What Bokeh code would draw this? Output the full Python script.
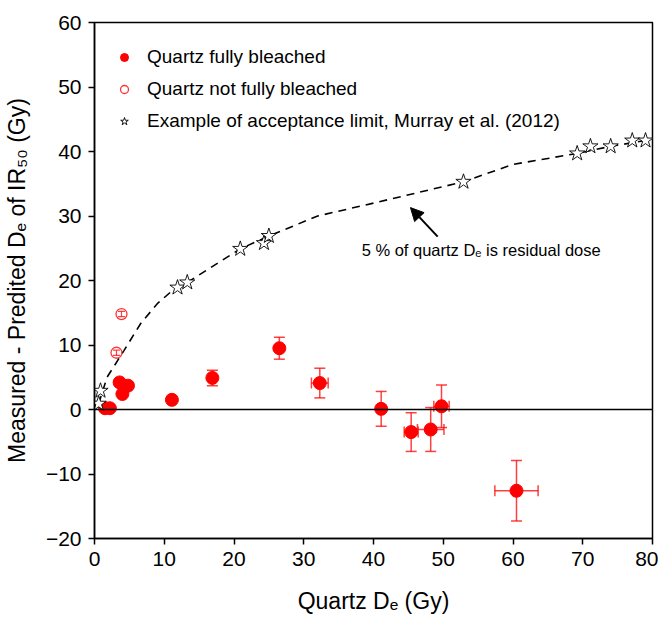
from bokeh.plotting import figure
from bokeh.models import (ColumnDataSource, Whisker, TeeHead, Span, Arrow, NormalHead,
                          Legend, LegendItem, Label, Range1d, FixedTicker)
from bokeh.embed import file_html
from bokeh.resources import INLINE

# ---- data ----
full_x = [1.5, 2.2, 3.6, 4.0, 4.8, 11.1, 16.9, 26.5, 32.3, 41.1, 45.4, 48.2, 49.75, 60.5]
full_y = [0.2, 0.2, 4.2, 2.4, 3.7, 1.5, 4.9, 9.5, 4.1, 0.1, -3.5, -3.1, 0.5, -12.6]
full_yerr = [0, 0, 0, 0, 0, 0, 1.2, 1.7, 2.3, 2.7, 3.0, 3.4, 3.3, 4.7]
full_xerr = [0, 0, 0, 0, 0, 0, 0, 0, 1.2, 0, 1.0, 1.9, 1.1, 3.1]

notfull_x = [3.15, 3.87]
notfull_y = [8.8, 14.8]
notfull_yerr = [0.4, 0.4]

star_x = [0.6, 0.86, 11.9, 13.3, 20.9, 24.3, 25.0, 52.9, 69.2, 71.1, 74.0, 77.1, 79.0]
star_y = [0.9, 2.9, 18.9, 19.7, 24.9, 25.8, 26.9, 35.3, 39.7, 40.8, 40.8, 41.7, 41.7]

limit_x = [0.6, 1.8, 4.2, 6.6, 9.0, 10.9, 13.3, 20.9, 25.0, 32.0, 40.0, 52.9, 60.0, 69.2, 74.0, 79.0]
limit_y = [0.9, 5.0, 9.1, 13.3, 16.4, 18.2, 19.7, 24.9, 26.9, 30.0, 32.0, 35.3, 38.0, 39.7, 40.8, 41.7]

x_ticks = [0, 10, 20, 30, 40, 50, 60, 70, 80]
y_ticks = [-20, -10, 0, 10, 20, 30, 40, 50, 60]

note_text = "5 % of quartz D\u2091 is residual dose"
note_pos = (38.3, 24.8)
arrow_from = (49.2, 26.8)
arrow_to = (45.3, 31.3)

FONT = "Liberation Sans"
RED = "#ff0000"

p = figure(width=658, height=618, x_range=Range1d(0, 80), y_range=Range1d(-20, 60),
           output_backend="svg", toolbar_location=None,
           min_border_left=94, min_border_right=6, min_border_top=22, min_border_bottom=80)

p.grid.visible = False
p.outline_line_color = "black"
p.outline_line_width = 1.5
p.background_fill_color = "white"
p.border_fill_color = "white"

for ax in (p.xaxis[0], p.yaxis[0]):
    ax.axis_line_width = 1.5
    ax.major_tick_line_width = 1.5
    ax.major_tick_out = 6
    ax.major_tick_in = 0
    ax.minor_tick_line_color = None
    ax.major_label_text_font = FONT
    ax.major_label_text_font_size = "21px"
    ax.major_label_text_color = "black"
    ax.major_label_standoff = 7
    ax.axis_label_text_font = FONT
    ax.axis_label_text_font_size = "23px"
    ax.axis_label_text_font_style = "normal"
    ax.axis_label_text_color = "black"

p.xaxis.axis_label_standoff = 19
p.yaxis.axis_label_standoff = 13
p.xaxis.ticker = FixedTicker(ticks=x_ticks)
p.yaxis.ticker = FixedTicker(ticks=y_ticks)
p.xaxis.axis_label = "Quartz D\u2091 (Gy)"
p.yaxis.axis_label = "Measured - Predited D\u2091 of IR\u2085\u2080 (Gy)"

# zero line
p.add_layout(Span(location=0, dimension="width", line_color="black", line_width=1.5))

# acceptance-limit dashed curve
p.line(limit_x, limit_y, line_color="black", line_width=1.6, line_dash="8 6")

# error bars
def tee(size, w):
    return TeeHead(size=size, line_color=RED, line_alpha=0.75, line_width=w)

ey = [(x, y, e) for x, y, e in zip(full_x, full_y, full_yerr) if e > 0]
src_ey = ColumnDataSource(dict(x=[a[0] for a in ey], lo=[a[1] - a[2] for a in ey], hi=[a[1] + a[2] for a in ey]))
p.add_layout(Whisker(base="x", lower="lo", upper="hi", source=src_ey, dimension="height",
                     line_color=RED, line_alpha=0.75, line_width=1.5,
                     upper_head=tee(11, 1.5), lower_head=tee(11, 1.5)))
ex = [(x, y, e) for x, y, e in zip(full_x, full_y, full_xerr) if e > 0]
src_ex = ColumnDataSource(dict(y=[a[1] for a in ex], lo=[a[0] - a[2] for a in ex], hi=[a[0] + a[2] for a in ex]))
p.add_layout(Whisker(base="y", lower="lo", upper="hi", source=src_ex, dimension="width",
                     line_color=RED, line_alpha=0.75, line_width=1.5,
                     upper_head=tee(11, 1.5), lower_head=tee(11, 1.5)))
src_nf = ColumnDataSource(dict(x=notfull_x,
                               lo=[y - e for y, e in zip(notfull_y, notfull_yerr)],
                               hi=[y + e for y, e in zip(notfull_y, notfull_yerr)]))
p.add_layout(Whisker(base="x", lower="lo", upper="hi", source=src_nf, dimension="height",
                     line_color=RED, line_alpha=0.75, line_width=1.2,
                     upper_head=tee(7, 1.2), lower_head=tee(7, 1.2)))

r_full = p.scatter(full_x, full_y, marker="circle", size=13, fill_color=RED, line_color=RED)
r_nf = p.scatter(notfull_x, notfull_y, marker="circle", size=11, fill_color=None,
                 line_color=RED, line_width=1.3, line_alpha=0.8)
r_star = p.scatter(star_x, star_y, marker="star", size=16, fill_color="white",
                   line_color="black", line_width=0.9)

# annotation
p.add_layout(Arrow(end=NormalHead(size=13, fill_color="black", line_color="black"),
                   x_start=arrow_from[0], y_start=arrow_from[1],
                   x_end=arrow_to[0], y_end=arrow_to[1],
                   line_color="black", line_width=2))
p.add_layout(Label(x=note_pos[0], y=note_pos[1], text=note_text, text_font=FONT,
                   text_font_size="16.5px", text_baseline="middle", text_color="black"))

legend = Legend(items=[LegendItem(label="Quartz fully bleached", renderers=[r_full]),
                       LegendItem(label="Quartz not fully bleached", renderers=[r_nf]),
                       LegendItem(label="Example of acceptance limit, Murray et al. (2012)", renderers=[r_star])],
                location=(20, 406), margin=0, padding=6, spacing=10,
                glyph_width=20, glyph_height=20, label_height=22, label_standoff=13,
                label_text_font=FONT, label_text_font_size="19px", label_text_color="black",
                border_line_color=None, background_fill_alpha=0)
p.add_layout(legend)

open("out.html", "w").write(file_html(p, INLINE))
